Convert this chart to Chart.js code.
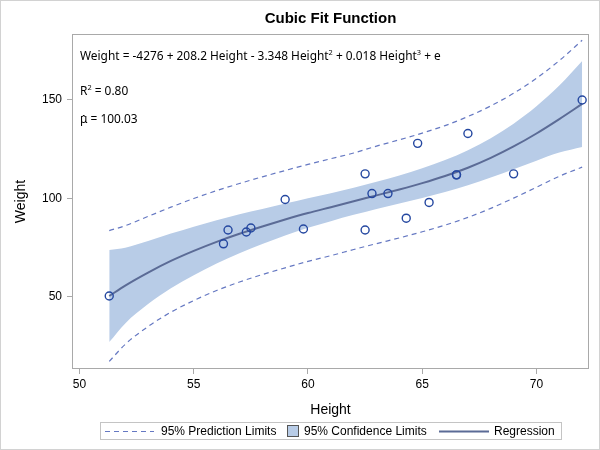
<!DOCTYPE html>
<html>
<head>
<meta charset="utf-8">
<script src="https://cdn.jsdelivr.net/npm/chart.js@4.4.1/dist/chart.umd.min.js"></script>
<style>
html,body{margin:0;padding:0;background:#fff;}
canvas{display:block;}
</style>
</head>
<body>
<canvas id="c" width="600" height="450"></canvas>
<script>
// ---- data ----
const ptHeight = [69.0,56.5,65.3,62.8,63.5,57.3,59.8,62.5,62.5,59.0,51.3,64.3,56.3,66.5,72.0,64.8,67.0,57.5,66.5];
const ptWeight = [112.5,84.0,98.0,102.5,102.5,83.0,84.5,112.5,84.0,99.5,50.5,90.0,77.0,112.0,150.0,128.0,133.0,85.0,112.0];

const gridHeight = [51.3,52,53,54,55,56,57,58,59,60,61,62,63,64,65,66,67,68,69,70,71,72];
const regression = [50.5,55.8,62.4,68.3,73.4,78.0,82.1,85.8,89.3,92.6,95.6,98.6,101.6,104.6,107.8,111.4,115.6,120.6,126.4,133.0,140.3,148.0];
const clUpper    = [73.9,75.0,78.4,82.2,85.7,89.0,92.0,94.7,97.4,100.1,102.7,105.5,108.5,111.7,115.3,119.5,124.5,130.6,138.0,146.8,157.3,169.8];
const clLower    = [27.1,36.6,46.4,54.4,61.1,67.0,72.2,76.9,81.2,85.1,88.5,91.7,94.7,97.5,100.3,103.3,106.7,110.6,114.8,119.2,123.3,126.2];
const plUpper    = [83.7,86.2,90.9,95.6,100.0,104.0,107.6,111.0,114.2,117.3,120.2,123.1,126.6,129.8,133.2,137.0,141.6,147.0,153.4,161.0,170.0,180.3];
const plLower    = [17.3,26.0,35.0,42.3,48.2,53.3,57.6,61.4,64.8,68.1,71.0,74.1,77.1,80.0,83.1,86.5,90.4,95.0,100.2,105.7,111.3,115.9];

const xTicks = [50,55,60,65,70];
const yTicks = [50,100,150];

const titleText = 'Cubic Fit Function';
const xTitle = 'Height';
const yTitle = 'Weight';
const legendLabels = ['95% Prediction Limits','95% Confidence Limits','Regression'];

// ---- styles ----
const bandColor = '#b8cce7';
const regColor = '#5b6b96';
const plColor = '#6578c2';
const ptColor = '#2447a0';
const axisColor = '#a9a9a9';
const SANS = '"Liberation Sans", Arial, sans-serif';
const EQF = '"Noto Sans", "Open Sans", sans-serif';

function pts(ys){ return gridHeight.map((h,i)=>({x:h,y:ys[i]})); }

function richWidth(ctx, parts, size){
  let w=0;
  for(const [t,sup] of parts){
    ctx.font = (sup? (size*0.62).toFixed(2):size.toFixed(2))+'px '+EQF;
    w += ctx.measureText(t).width;
  }
  return w;
}
function drawRich(ctx, parts, x, y, size){
  ctx.textAlign='left'; ctx.textBaseline='alphabetic';
  for(const [t,sup] of parts){
    const s = sup? size*0.62 : size;
    ctx.font = s.toFixed(2)+'px '+EQF;
    ctx.fillText(t, x, sup? y - size*0.38 : y);
    x += ctx.measureText(t).width;
  }
  return x;
}

const decor = {
  id:'decor',
  beforeDraw(chart){
    const ctx=chart.ctx;
    ctx.save(); ctx.fillStyle='#fff'; ctx.fillRect(0,0,chart.width,chart.height); ctx.restore();
  },
  afterDraw(chart){
    const ctx=chart.ctx, a=chart.chartArea;
    ctx.save();
    // plot frame
    ctx.strokeStyle=axisColor; ctx.lineWidth=1;
    ctx.strokeRect(Math.round(a.left)+0.5, Math.round(a.top)+0.5, Math.round(a.right-a.left)-1, Math.round(a.bottom-a.top)-1);
    // outer border
    ctx.strokeStyle='#d2d2d2';
    ctx.strokeRect(0.5,0.5,599,449);
    // title
    ctx.fillStyle='#000';
    ctx.font='bold 15px '+SANS; ctx.textAlign='center'; ctx.textBaseline='middle';
    ctx.fillText(titleText, (a.left+a.right)/2, 18.5);
    // inset text
    const eq = [['Weight = -4276 + 208.2 Height - 3.348 Height',0],['2',1],[' + 0.018 Height',0],['3',1],[' + e',0]];
    const w12 = richWidth(ctx, eq, 12);
    const size = 12*361/w12;
    drawRich(ctx, eq, 80, 59.5, size);
    drawRich(ctx, [['R',0],['2',1],[' = 0.80',0]], 80, 94.5, size);
    // mu with hat
    ctx.font = size.toFixed(2)+'px '+EQF;
    const muW = ctx.measureText('\u03BC').width;
    ctx.textAlign='left'; ctx.textBaseline='alphabetic';
    ctx.fillText('\u03BC', 80, 122.5);
    ctx.textAlign='center';
    ctx.fillText('\u02C6', 80+muW/2, 124.5);
    ctx.textAlign='left';
    ctx.fillText(' = 100.03', 80+muW, 122.5);
    // legend
    ctx.strokeStyle='#c4c4c4'; ctx.lineWidth=1;
    ctx.strokeRect(100.5,422.5,461,17);
    const ly=431.5;
    ctx.strokeStyle=plColor; ctx.setLineDash([5,4]);
    ctx.beginPath(); ctx.moveTo(105,ly); ctx.lineTo(154,ly); ctx.stroke();
    ctx.setLineDash([]);
    ctx.fillStyle='#000'; ctx.font='12px '+SANS; ctx.textAlign='left'; ctx.textBaseline='middle';
    ctx.fillText(legendLabels[0],161,ly);
    ctx.fillStyle=bandColor; ctx.fillRect(287.5,425.5,11,11);
    ctx.strokeStyle='#555'; ctx.strokeRect(287.5,425.5,11,11);
    ctx.fillStyle='#000'; ctx.fillText(legendLabels[1],304,ly);
    ctx.strokeStyle=regColor; ctx.lineWidth=2;
    ctx.beginPath(); ctx.moveTo(439,ly); ctx.lineTo(489,ly); ctx.stroke();
    ctx.fillStyle='#000'; ctx.fillText(legendLabels[2],494,ly);
    ctx.restore();
  }
};

const line = {showLine:true, pointRadius:0, pointHoverRadius:0, cubicInterpolationMode:'monotone'};

new Chart(document.getElementById('c').getContext('2d'), {
  type:'scatter',
  data:{datasets:[
    Object.assign({label:'CLU', data:pts(clUpper), borderWidth:1, borderColor:'rgba(0,0,0,0)', backgroundColor:bandColor, fill:'+1', order:6}, line),
    Object.assign({label:'CLL', data:pts(clLower), borderWidth:1, borderColor:'rgba(0,0,0,0)', backgroundColor:bandColor, fill:false, order:5}, line),
    Object.assign({label:'PLU', data:pts(plUpper), borderWidth:1.2, borderColor:plColor, borderDash:[5,4], fill:false, order:4}, line),
    Object.assign({label:'PLL', data:pts(plLower), borderWidth:1.2, borderColor:plColor, borderDash:[5,4], fill:false, order:4}, line),
    Object.assign({label:'Regression', data:pts(regression), borderWidth:2, borderColor:regColor, fill:false, order:2}, line),
    {label:'Weight', data:ptHeight.map((h,i)=>({x:h,y:ptWeight[i]})), showLine:false, pointRadius:4, pointBorderWidth:1.4,
     pointBorderColor:ptColor, pointBackgroundColor:'rgba(0,0,0,0)', order:1}
  ]},
  options:{
    responsive:false, animation:false, devicePixelRatio:1,
    layout:{padding:{top:34,right:11,left:0,bottom:0}},
    plugins:{legend:{display:false}, tooltip:{enabled:false}, title:{display:false}},
    scales:{
      x:{type:'linear', min:49.67, max:72.3,
         afterFit(s){ s.height=81; },
         afterBuildTicks(s){ s.ticks = xTicks.map(v=>({value:v})); },
         grid:{display:true, drawOnChartArea:false, drawTicks:true, tickLength:5, color:axisColor},
         border:{display:false},
         ticks:{padding:3, color:'#000', font:{family:SANS, size:12}, maxRotation:0},
         title:{display:true, text:xTitle, color:'#000', font:{family:SANS, size:14}, padding:{top:0,bottom:31.6}}
      },
      y:{type:'linear', min:13.45, max:183.5,
         afterFit(s){ s.width=72; },
         afterBuildTicks(s){ s.ticks = yTicks.map(v=>({value:v})); },
         grid:{display:true, drawOnChartArea:false, drawTicks:true, tickLength:5, color:axisColor},
         border:{display:false},
         ticks:{padding:5, color:'#000', font:{family:SANS, size:12}},
         title:{display:true, text:yTitle, color:'#000', font:{family:SANS, size:14}, padding:{top:13,bottom:0}}
      }
    }
  },
  plugins:[decor]
});
</script>
</body>
</html>
